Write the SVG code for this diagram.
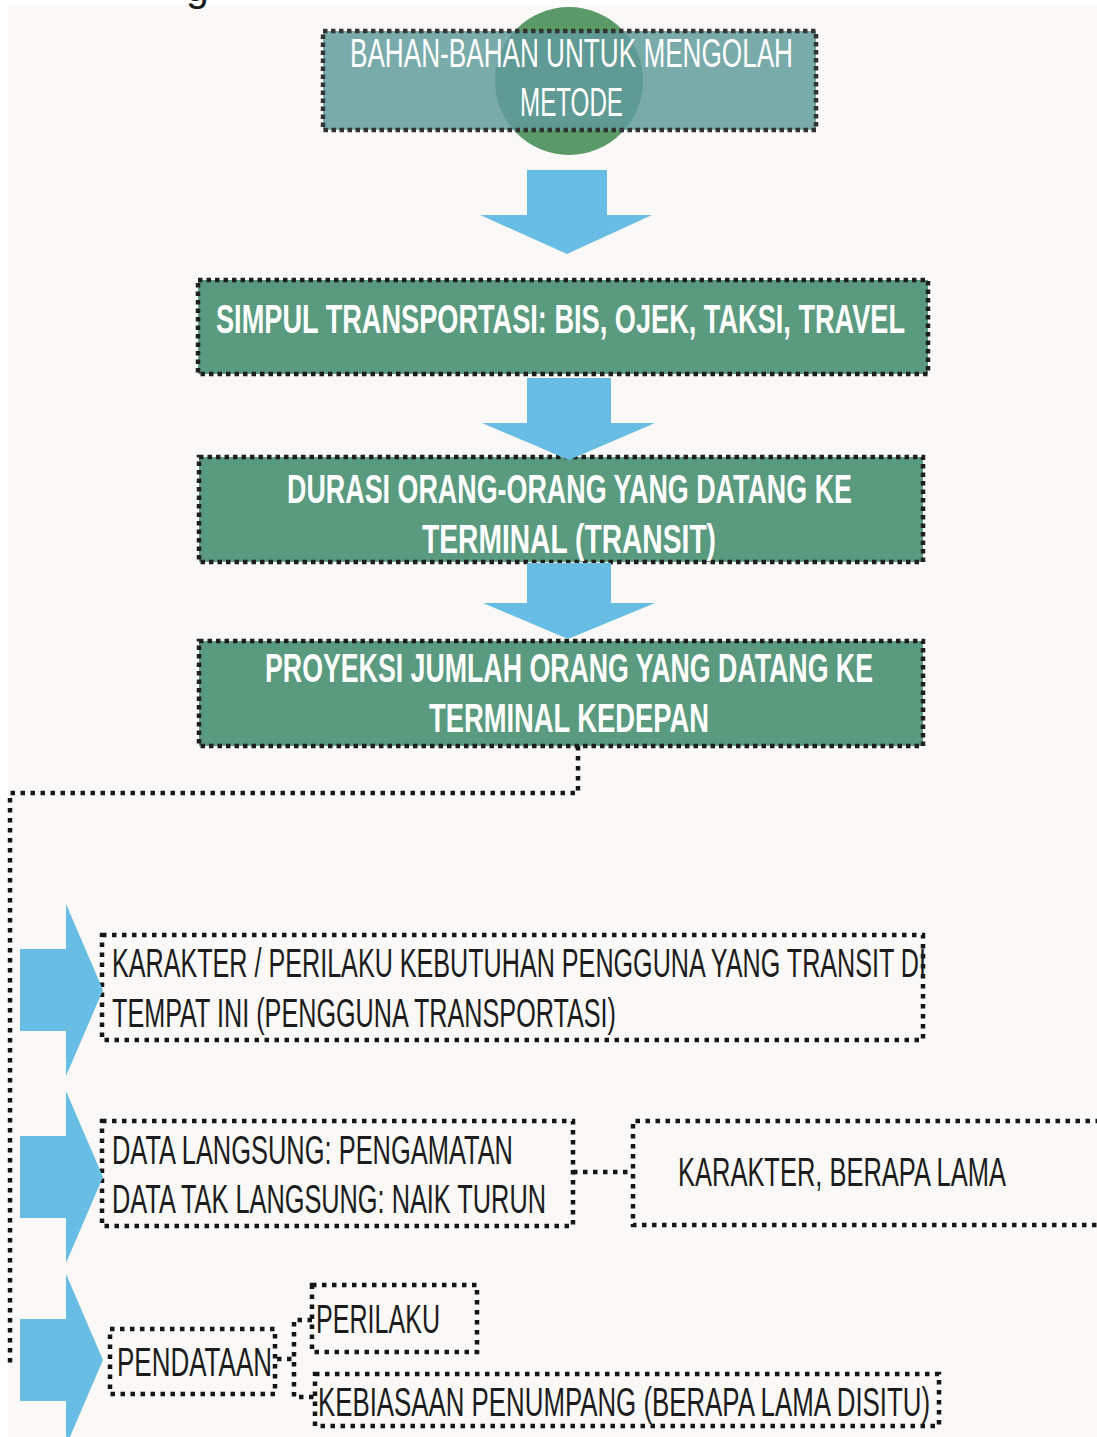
<svg xmlns="http://www.w3.org/2000/svg" width="1097" height="1437" viewBox="0 0 1097 1437">
<style>
.txt{font-family:"Liberation Sans","Arial",sans-serif;font-size:41px;}
.w{fill:#ffffff;}
.b{fill:#1c1c1c;}
.bold{font-weight:bold;}
.gbox{fill:#5a9a7f;stroke:#1e1e1e;stroke-width:4.5;stroke-dasharray:4.5 4;}
.obox{fill:none;stroke:#161616;stroke-width:4.5;stroke-dasharray:4.5 5.5;}
.dline{fill:none;stroke:#161616;stroke-width:4.5;stroke-dasharray:4.5 5.5;}
.arrow{fill:#67bde3;}
</style>
<defs>
<clipPath id="c1"><rect x="323" y="31" width="493" height="99"/></clipPath>
</defs>
<rect x="0" y="0" width="1097" height="1437" fill="#ffffff"/>
<rect x="8" y="6" width="1089" height="1431" fill="#faf9f7"/>
<text x="186" y="1" class="txt b" font-size="30">g</text>

<g id="node-bahan">
<circle cx="569" cy="81" r="74" fill="#5a9a68"/>
<rect x="323" y="31" width="493" height="99" fill="#79abaa"/>
<circle cx="569" cy="81" r="74" fill="#5f9a94" clip-path="url(#c1)"/>
<rect x="323" y="31" width="493" height="99" fill="none" stroke="#333" stroke-width="4.5" stroke-dasharray="4.5 3.5"/>
<text x="350" y="67" class="txt w" font-size="38" textLength="443" lengthAdjust="spacingAndGlyphs">BAHAN-BAHAN UNTUK MENGOLAH</text>
<text x="520" y="116" class="txt w" font-size="38" textLength="103" lengthAdjust="spacingAndGlyphs">METODE</text>
</g>

<g id="node-simpul">
<rect x="198" y="280" width="730" height="94" class="gbox"/>
<text x="216" y="333" class="txt w bold" font-size="43" textLength="689" lengthAdjust="spacingAndGlyphs">SIMPUL TRANSPORTASI: BIS, OJEK, TAKSI, TRAVEL</text>
</g>

<g id="node-durasi">
<rect x="199" y="457" width="724" height="105" class="gbox"/>
<text x="287" y="503" class="txt w bold" textLength="565" lengthAdjust="spacingAndGlyphs">DURASI ORANG-ORANG YANG DATANG KE</text>
<text x="422" y="553" class="txt w bold" textLength="294" lengthAdjust="spacingAndGlyphs">TERMINAL (TRANSIT)</text>
</g>

<g id="node-proyeksi">
<rect x="199" y="641" width="724" height="105" class="gbox"/>
<text x="265" y="682" class="txt w bold" textLength="608" lengthAdjust="spacingAndGlyphs">PROYEKSI JUMLAH ORANG YANG DATANG KE</text>
<text x="429" y="732" class="txt w bold" textLength="280" lengthAdjust="spacingAndGlyphs">TERMINAL KEDEPAN</text>
</g>

<g id="node-karakter">
<rect x="102" y="935" width="821" height="105" class="obox"/>
<text x="112" y="977" class="txt b" textLength="814" lengthAdjust="spacingAndGlyphs">KARAKTER / PERILAKU KEBUTUHAN PENGGUNA YANG TRANSIT DI</text>
<text x="112" y="1027" class="txt b" textLength="504" lengthAdjust="spacingAndGlyphs">TEMPAT INI (PENGGUNA TRANSPORTASI)</text>
</g>

<g id="node-data">
<rect x="102" y="1121" width="471" height="105" class="obox"/>
<text x="112" y="1164" class="txt b" textLength="401" lengthAdjust="spacingAndGlyphs">DATA LANGSUNG: PENGAMATAN</text>
<text x="112" y="1213" class="txt b" textLength="434" lengthAdjust="spacingAndGlyphs">DATA TAK LANGSUNG: NAIK TURUN</text>
</g>

<g id="node-berapa">
<path d="M1100,1121 H633 V1225 H1100" class="obox"/>
<text x="678" y="1186" class="txt b" textLength="328" lengthAdjust="spacingAndGlyphs">KARAKTER, BERAPA LAMA</text>
</g>

<g id="node-pendataan">
<rect x="110" y="1329" width="165" height="65" class="obox"/>
<text x="117" y="1376" class="txt b" textLength="155" lengthAdjust="spacingAndGlyphs">PENDATAAN</text>
</g>

<g id="node-perilaku">
<rect x="312" y="1285" width="165" height="67" class="obox"/>
<text x="316" y="1333" class="txt b" textLength="124" lengthAdjust="spacingAndGlyphs">PERILAKU</text>
</g>

<g id="node-kebiasaan">
<rect x="315" y="1374" width="624" height="52" class="obox"/>
<text x="318" y="1416" class="txt b" textLength="612" lengthAdjust="spacingAndGlyphs">KEBIASAAN PENUMPANG (BERAPA LAMA DISITU)</text>
</g>

<g id="connectors">
<polygon class="arrow" points="527,170 607,170 607,215 652,215 567,254 480,215 527,215"/>
<polygon class="arrow" points="527,378 611,378 611,423 655,423 569,460 482,423 527,423"/>
<polygon class="arrow" points="527,563 611,563 611,603 655,603 568,639 483,603 527,603"/>
<polyline class="dline" points="578,746 578,793 10,793 10,1368"/>
<polygon class="arrow" points="20,949 66,949 66,904 103,990 66,1076 66,1031 20,1031"/>
<polygon class="arrow" points="20,1136 66,1136 66,1091 103,1177 66,1263 66,1218 20,1218"/>
<polygon class="arrow" points="20,1319 66,1319 66,1274 103,1360 66,1446 66,1401 20,1401"/>
<line class="dline" x1="573" y1="1172" x2="633" y2="1172"/>
<line class="dline" x1="277" y1="1359" x2="293" y2="1359"/>
<polyline class="dline" points="312,1320 294,1320 294,1397 315,1397"/>
</g>
</svg>
